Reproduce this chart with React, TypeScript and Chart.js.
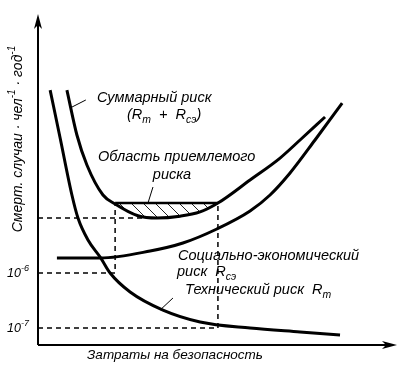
import React, { useEffect, useRef } from 'react';
import { Chart, registerables } from 'chart.js';

Chart.register(...registerables);

// ---- data (cost in arbitrary units, risk in deaths per person per year) ----
const totalCost = [0.81, 1.09, 1.37, 1.82, 2.16, 2.8, 3.33, 3.98, 4.54, 5.04, 5.94, 6.78, 7.34, 8.04];
const totalRisk = [2.12e-3, 3.23e-4, 9.2e-5, 2.62e-5, 1.8e-5, 1.1e-5, 1.0e-5, 1.08e-5, 1.29e-5, 1.87e-5, 4.91e-5, 1.23e-4, 2.62e-4, 6.86e-4];

const socialCost = [0.53, 1.74, 3.14, 4.06, 5.01, 5.94, 6.5, 7.06, 7.76, 8.52];
const socialRisk = [1.87e-6, 1.87e-6, 2.51e-6, 3.51e-6, 6.31e-6, 1.34e-5, 2.62e-5, 6.58e-5, 2.62e-4, 1.23e-3];

const techCost = [0.34, 0.62, 0.95, 1.12, 1.4, 1.76, 2.02, 2.58, 3.5, 4.54, 5.94, 7.34, 8.46];
const techRisk = [2.12e-3, 2.85e-4, 2.62e-5, 1.0e-5, 3.98e-6, 1.87e-6, 1.0e-6, 4.52e-7, 2.12e-7, 1.29e-7, 1.0e-7, 8.5e-8, 7.5e-8];

const acceptableLevel = 1.87e-5;
const acceptableCost = [2.16, 5.04];
const optimumCost = 3.33;
const optimumRisk = 1.0e-5;

const tickValues = [1e-6, 1e-7];
const tickExponents = ['-6', '-7'];

const costMin = 0;
const costMax = 10;
const riskMin = 4.91e-8;
const riskMax = 5.57e-2;

const FONT = '"Liberation Sans", Arial, Helvetica, sans-serif';

type Seg = { t: string; s?: 'sub' | 'sup' };

function drawRich(ctx: CanvasRenderingContext2D, segs: Seg[], x: number, y: number, size: number, align: 'left' | 'center' = 'left') {
  const f = (sz: number) => `italic ${sz}px ${FONT}`;
  const widths = segs.map((sg) => {
    ctx.font = f(sg.s ? size * 0.72 : size);
    return ctx.measureText(sg.t).width;
  });
  const total = widths.reduce((a, b) => a + b, 0);
  let cx = align === 'center' ? x - total / 2 : x;
  ctx.textAlign = 'left';
  ctx.textBaseline = 'middle';
  segs.forEach((sg, i) => {
    const sz = sg.s ? size * 0.72 : size;
    ctx.font = f(sz);
    const dy = sg.s === 'sub' ? size * 0.32 : sg.s === 'sup' ? -size * 0.42 : 0;
    ctx.fillText(sg.t, cx, y + dy);
    cx += widths[i];
  });
}

function arrowHead(ctx: CanvasRenderingContext2D, tx: number, ty: number, dir: 'up' | 'right') {
  ctx.save();
  ctx.translate(tx, ty);
  if (dir === 'right') ctx.rotate(Math.PI / 2);
  ctx.beginPath();
  ctx.moveTo(0, 0);
  ctx.lineTo(-4, 15);
  ctx.lineTo(0, 11);
  ctx.lineTo(4, 15);
  ctx.closePath();
  ctx.fill();
  ctx.restore();
}

const annotatePlugin = {
  id: 'annotate',
  afterDraw(chart: any) {
    const { ctx, chartArea: a } = chart;
    const xs = chart.scales.x;
    const ys = chart.scales.y;
    ctx.save();
    ctx.strokeStyle = '#000';
    ctx.fillStyle = '#000';

    // axes
    ctx.lineWidth = 2;
    ctx.beginPath();
    ctx.moveTo(a.left, a.bottom);
    ctx.lineTo(a.left, a.top + 6);
    ctx.moveTo(a.left, a.bottom);
    ctx.lineTo(a.right - 4, a.bottom);
    ctx.stroke();
    arrowHead(ctx, a.left, a.top + 2, 'up');
    arrowHead(ctx, a.right + 2, a.bottom, 'right');

    // tick labels
    tickValues.forEach((v, i) => {
      const py = ys.getPixelForValue(v);
      ctx.textBaseline = 'middle';
      ctx.textAlign = 'right';
      ctx.font = `italic 12.5px ${FONT}`;
      ctx.fillText('10', 21, py + 1);
      ctx.textAlign = 'left';
      ctx.font = `italic 9px ${FONT}`;
      ctx.fillText(tickExponents[i], 21, py - 5);
    });

    // leader lines (data coordinates)
    ctx.lineWidth = 1;
    const leaders: [number, number, number, number][] = [
      [0.95, 1.04e-3, 1.34, 1.4e-3],
      [3.08, acceptableLevel, 3.22, 3.66e-5],
      [3.42, 2.12e-7, 3.78, 3.51e-7],
    ];
    leaders.forEach(([x1, y1, x2, y2]) => {
      ctx.beginPath();
      ctx.moveTo(xs.getPixelForValue(x1), ys.getPixelForValue(y1));
      ctx.lineTo(xs.getPixelForValue(x2), ys.getPixelForValue(y2));
      ctx.stroke();
    });

    // labels
    const sz = 14.5;
    drawRich(ctx, [{ t: 'Суммарный риск' }], 97, 98, sz);
    drawRich(ctx, [{ t: '(R' }, { t: 'т', s: 'sub' }, { t: '  +  R' }, { t: 'сэ', s: 'sub' }, { t: ')' }], 127, 115, sz);
    drawRich(ctx, [{ t: 'Область приемлемого' }], 98, 157, sz);
    drawRich(ctx, [{ t: 'риска' }], 172, 175, sz, 'center');
    drawRich(ctx, [{ t: 'Социально-экономический' }], 178, 256, sz);
    drawRich(ctx, [{ t: 'риск  R' }, { t: 'сэ', s: 'sub' }], 177, 272, sz);
    drawRich(ctx, [{ t: 'Технический риск  R' }, { t: 'т', s: 'sub' }], 185, 290, sz);
    drawRich(ctx, [{ t: 'Затраты на безопасность' }], 175, 355, 13.5, 'center');

    // y axis title
    ctx.save();
    ctx.translate(18, 139);
    ctx.rotate(-Math.PI / 2);
    drawRich(
      ctx,
      [{ t: 'Смерт. случаи · чел' }, { t: '-1', s: 'sup' }, { t: ' · год' }, { t: '-1', s: 'sup' }],
      0,
      0,
      14,
      'center'
    );
    ctx.restore();

    ctx.restore();
  },
};

function makeHatch(): CanvasPattern | string {
  const c = document.createElement('canvas');
  c.width = 12;
  c.height = 12;
  const g = c.getContext('2d');
  if (!g) return 'rgba(0,0,0,0.2)';
  g.strokeStyle = '#222';
  g.lineWidth = 1;
  g.beginPath();
  g.moveTo(-1, -1);
  g.lineTo(13, 13);
  g.stroke();
  const p = g.createPattern(c, 'repeat');
  return p || 'rgba(0,0,0,0.2)';
}

const pts = (xs: number[], ys: number[]) => xs.map((x, i) => ({ x, y: ys[i] }));

export default function App() {
  const ref = useRef<HTMLCanvasElement | null>(null);

  useEffect(() => {
    document.body.style.margin = '0';
    if (!ref.current) return;
    const curve = { borderColor: '#000', borderWidth: 3, pointRadius: 0, fill: false, cubicInterpolationMode: 'monotone' as const };
    const guide = { borderColor: '#000', borderWidth: 1.5, borderDash: [5, 4], pointRadius: 0, fill: false, tension: 0 };
    const chart = new Chart(ref.current, {
      type: 'line',
      data: {
        datasets: [
          { label: 'Суммарный риск', data: pts(totalCost, totalRisk), ...curve },
          { label: 'Социально-экономический риск', data: pts(socialCost, socialRisk), ...curve },
          { label: 'Технический риск', data: pts(techCost, techRisk), ...curve },
          {
            label: 'Область приемлемого риска',
            data: pts(acceptableCost, [acceptableLevel, acceptableLevel]),
            borderColor: '#000',
            borderWidth: 2.5,
            pointRadius: 0,
            tension: 0,
            fill: { target: 0 },
            backgroundColor: makeHatch() as any,
          },
          { label: 'g1', data: pts([costMin, optimumCost], [optimumRisk, optimumRisk]), ...guide },
          { label: 'g2', data: pts([costMin, acceptableCost[0], acceptableCost[0]], [tickValues[0], tickValues[0], acceptableLevel]), ...guide },
          { label: 'g3', data: pts([costMin, acceptableCost[1], acceptableCost[1]], [tickValues[1], tickValues[1], acceptableLevel]), ...guide },
        ],
      },
      options: {
        animation: false,
        responsive: true,
        maintainAspectRatio: false,
        layout: { padding: { top: 12, right: 25, left: 0, bottom: 0 } },
        plugins: { legend: { display: false }, tooltip: { enabled: false } },
        scales: {
          x: {
            type: 'linear',
            min: costMin,
            max: costMax,
            ticks: { display: false },
            grid: { display: false },
            border: { display: false },
            afterFit: (s: any) => {
              s.height = 24;
            },
          },
          y: {
            type: 'logarithmic',
            min: riskMin,
            max: riskMax,
            ticks: { display: false },
            grid: { display: false },
            border: { display: false },
            afterFit: (s: any) => {
              s.width = 38;
            },
          },
        },
      },
      plugins: [annotatePlugin],
    });
    return () => chart.destroy();
  }, []);

  return (
    <div style={{ width: 420, height: 369, position: 'relative' }}>
      <canvas ref={ref} />
    </div>
  );
}
